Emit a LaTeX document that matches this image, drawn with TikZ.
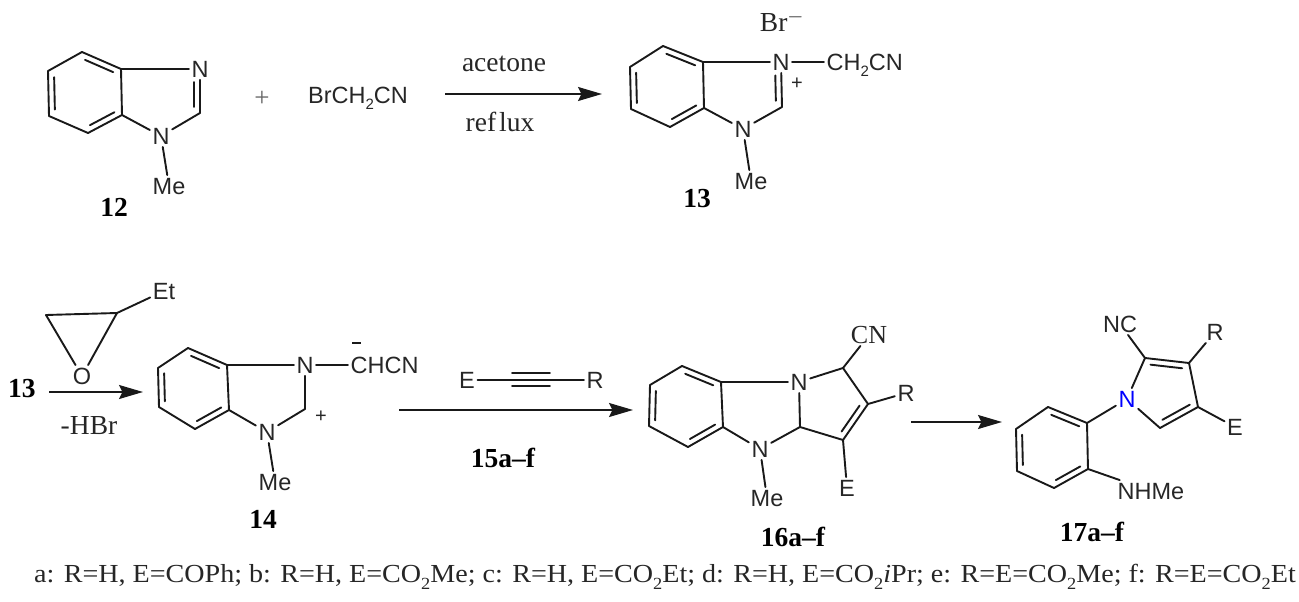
\documentclass[tikz,border=0pt]{standalone}
\usepackage{fontspec}
\setmainfont{Liberation Serif}
\setsansfont{Liberation Sans}
\usetikzlibrary{calc,arrows.meta}
\newcommand{\dblbond}[3][]{\draw[bond,#1] ($(#2)!.14!(#3)!6pt!-90:(#3)$) -- ($(#3)!.14!(#2)!6pt!90:(#2)$);}
\newcommand{\lowsub}[2]{\raisebox{-.28em}{\fontsize{#1}{#1}\selectfont #2}}
\begin{document}
\begin{tikzpicture}[x=1pt,y=-1pt]
      \tikzstyle{bond}=[line width=1.9pt,line cap=round,black!90]
      \tikzstyle{rxn}=[line width=1.9pt,black!90,-{Stealth[length=24pt,width=14pt,inset=3.5pt]}]
      \tikzstyle{atom}=[font=\sffamily\fontsize{23.5}{26}\selectfont,inner sep=2.5pt,text height=16.5pt,text depth=0pt,text=black!85]
      \tikzstyle{cond}=[font=\fontsize{27.5}{30}\selectfont,inner sep=0pt,text=black!85]
      \tikzstyle{cmpd}=[font=\bfseries\fontsize{27.5}{30}\selectfont,inner sep=0pt,text=black]
      \useasboundingbox (0,0) rectangle (1299,602);

      % 12
      \coordinate (a1) at (82,52);
      \coordinate (a2) at (121,69);
      \coordinate (a3) at (122,115);
      \coordinate (a4) at (88,133);
      \coordinate (a5) at (49,116);
      \coordinate (a6) at (48,71);
      \coordinate (a7) at (200,113);
      \node[atom] (aN3) at (200,69) {N};
      \node[atom] (aN1) at (161,136) {N};
      \node[atom] (aMe) at (169,186) {Me};
      \foreach \p/\q in {a1/a2,a2/a3,a3/a4,a4/a5,a5/a6,a6/a1,a2/aN3,aN3/a7,a7/aN1,aN1/a3,aN1/aMe}
        \draw[bond] (\p) -- (\q);
      \dblbond{a1}{a2}
      \dblbond{a3}{a4}
      \dblbond{a5}{a6}
      \dblbond[shorten <=7pt]{aN3}{a7}
      \node[cmpd] (l12) at (114,207) {12};
      \node[font=\fontsize{27}{28}\selectfont,text=black!60] (plus) at (262,99) {+};
      \node[atom] (brcn) at (358,95) {BrCH\lowsub{15}{2}CN};

      % 13
      \coordinate (b1) at (663,46);
      \coordinate (b2) at (703,62);
      \coordinate (b3) at (704,108);
      \coordinate (b4) at (670,127);
      \coordinate (b5) at (631,109);
      \coordinate (b6) at (630,67);
      \coordinate (b7) at (782,107);
      \node[atom] (bN3) at (781,62) {N};
      \node[atom] (bN1) at (743,129) {N};
      \node[atom] (bMe) at (751,181) {Me};
      \node[atom,anchor=west] (bCN) at (824,62) {CH\lowsub{15}{2}CN};
      \foreach \p/\q in {b1/b2,b2/b3,b3/b4,b4/b5,b5/b6,b6/b1,b2/bN3,bN3/b7,b7/bN1,bN1/b3,bN1/bMe,bN3/bCN}
        \draw[bond] (\p) -- (\q);
      \dblbond{b1}{b2}
      \dblbond{b3}{b4}
      \dblbond{b5}{b6}
      \dblbond[shorten <=7pt]{bN3}{b7}
      \node[atom,font=\sffamily\fontsize{20}{20}\selectfont] (bplus) at (797,81) {+};
      \node[cond] (brion) at (782,21) {Br\textsuperscript{$-$}};
      \node[cmpd] (l13) at (697,199) {13};

      \coordinate (r1s) at (445,94);
      \coordinate (r1e) at (602,94);
      \draw[rxn] (r1s) -- (r1e);
      \node[cond] (acetone) at (504,64) {acetone};
      \node[cond] (reflux) at (500,122) {ref\kern3pt lux};

      % epoxide
      \coordinate (e1) at (46,315);
      \coordinate (e2) at (117,313);
      \node[atom] (eO) at (82,376) {O};
      \node[atom] (eEt) at (164,291) {Et};
      \foreach \p/\q in {e1/e2,e1/eO,e2/eO,e2/eEt}
        \draw[bond] (\p) -- (\q);
      \node[cmpd] (l13b) at (22,389) {13};
      \coordinate (r2s) at (49,392);
      \coordinate (r2e) at (143,392);
      \draw[rxn] (r2s) -- (r2e);
      \node[cond] (hbr) at (89,426) {-HBr};

      % 14
      \coordinate (c1) at (188,348);
      \coordinate (c2) at (227,365);
      \coordinate (c3) at (229,410);
      \coordinate (c4) at (195,429);
      \coordinate (c5) at (159,407);
      \coordinate (c6) at (158,368);
      \coordinate (c7) at (305,409);
      \node[atom] (cN3) at (305,365) {N};
      \node[atom] (cN1) at (267,432) {N};
      \node[atom] (cMe) at (275,482) {Me};
      \node[atom,anchor=west] (cCN) at (348,365) {CHCN};
      \foreach \p/\q in {c1/c2,c2/c3,c3/c4,c4/c5,c5/c6,c6/c1,c2/cN3,cN3/c7,c7/cN1,cN1/c3,cN1/cMe,cN3/cCN}
        \draw[bond] (\p) -- (\q);
      \dblbond{c1}{c2}
      \dblbond{c3}{c4}
      \dblbond{c5}{c6}
      \node[atom,font=\sffamily\fontsize{20}{20}\selectfont] (cplus) at (321,414) {+};
      \coordinate (cm1) at (352,343);
      \coordinate (cm2) at (361,343);
      \draw[bond,line width=1.5pt,line cap=butt] (cm1) -- (cm2);
      \node[cmpd] (l14) at (263,519) {14};

      % alkyne
      \node[atom] (dE) at (467,380) {E};
      \node[atom] (dR) at (595,380) {R};
      \coordinate (d1) at (512,373);
      \coordinate (d2) at (550,373);
      \coordinate (d3) at (512,386);
      \coordinate (d4) at (550,386);
      \draw[bond] (dE) -- (dR);
      \draw[bond] (d1) -- (d2);
      \draw[bond] (d3) -- (d4);
      \coordinate (r3s) at (399,410);
      \coordinate (r3e) at (633,410);
      \draw[rxn] (r3s) -- (r3e);
      \node[cmpd] (l15) at (503,458) {15a--f};

      % 16
      \coordinate (f1) at (682,366);
      \coordinate (f2) at (721,382);
      \coordinate (f3) at (723,427);
      \coordinate (f4) at (688,447);
      \coordinate (f5) at (649,426);
      \coordinate (f6) at (650,385);
      \coordinate (f7) at (800,427);
      \coordinate (f8) at (843,368);
      \coordinate (f9) at (868,404);
      \coordinate (f10) at (843,440);
      \node[atom] (fN3) at (799,382) {N};
      \node[atom] (fN1) at (760,449) {N};
      \node[atom] (fMe) at (767,498) {Me};
      \node[atom,font=\fontsize{26}{26}\selectfont] (fCN) at (869,335) {CN};
      \node[atom] (fR) at (906,393) {R};
      \node[atom] (fE) at (847,488) {E};
      \foreach \p/\q in {f1/f2,f2/f3,f3/f4,f4/f5,f5/f6,f6/f1,f2/fN3,fN3/f7,f7/fN1,fN1/f3,fN1/fMe,fN3/f8,f8/f9,f9/f10,f10/f7,f8/fCN,f9/fR,f10/fE}
        \draw[bond] (\p) -- (\q);
      \dblbond{f1}{f2}
      \dblbond{f3}{f4}
      \dblbond{f5}{f6}
      \dblbond{f9}{f10}
      \node[cmpd] (l16) at (793,537) {16a--f};
      \coordinate (r4s) at (911,422);
      \coordinate (r4e) at (1002,422);
      \draw[rxn] (r4s) -- (r4e);

      % 17
      \coordinate (g1) at (1048,407);
      \coordinate (g2) at (1087,423);
      \coordinate (g3) at (1088,469);
      \coordinate (g4) at (1054,488);
      \coordinate (g5) at (1017,471);
      \coordinate (g6) at (1016,429);
      \coordinate (g7) at (1145,358);
      \coordinate (g8) at (1189,363);
      \coordinate (g9) at (1198,407);
      \coordinate (g10) at (1160,428);
      \node[atom,text=blue] (gN) at (1127,399) {N};
      \node[atom] (gCN) at (1120,324) {NC};
      \node[atom] (gR) at (1215,332) {R};
      \node[atom] (gE) at (1235,427) {E};
      \node[atom] (gNH) at (1151,491) {NHMe};
      \foreach \p/\q in {g1/g2,g2/g3,g3/g4,g4/g5,g5/g6,g6/g1,g2/gN,g3/gNH,gN/g7,g7/g8,g8/g9,g9/g10,g10/gN,g7/gCN,g8/gR,g9/gE}
        \draw[bond] (\p) -- (\q);
      \dblbond{g1}{g2}
      \dblbond{g3}{g4}
      \dblbond{g5}{g6}
      \dblbond{g7}{g8}
      \dblbond{g9}{g10}
      \node[cmpd] (l17) at (1092,532) {17a--f};

      \node[cond,font=\fontsize{26}{26}\selectfont,xscale=1.08,transform shape] (key) at (665,577) {a: R=H, E=COPh; b: R=H, E=CO\lowsub{17}{2}Me; c: R=H, E=CO\lowsub{17}{2}Et; d: R=H, E=CO\lowsub{17}{2}\textit{i}Pr; e: R=E=CO\lowsub{17}{2}Me; f: R=E=CO\lowsub{17}{2}Et};
\end{tikzpicture}
\end{document}
